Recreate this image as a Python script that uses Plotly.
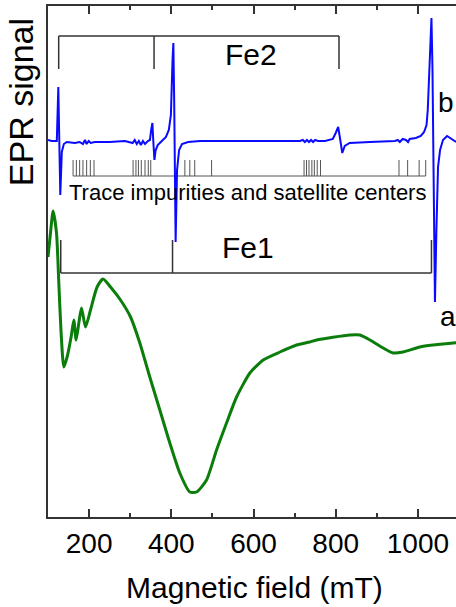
import plotly.graph_objects as go

# ---- data (field in mT, signal in arbitrary units) ----
green_field = [100, 106, 112.4, 120.7, 126.3, 131.9, 138.5, 146.5, 156.2, 162.8, 168.4, 175.0,
               181.5, 191.3, 203.4, 219.5, 234.1, 252.1, 276.4, 300.8, 323.4, 347.7, 372.1,
               396.4, 420.7, 445.1, 461.4, 485.7, 510.1, 534.4, 558.8, 591.2, 623.5, 664.2,
               704.8, 737.1, 753.4, 834.5, 858.8, 883.2, 915.5, 939.9, 964.2, 1004.8, 1036.5,
               1085.9, 1100]
green_signal = [260, 284, 306, 284, 234, 184, 150, 160, 180, 197, 177, 194,
                209, 190, 207, 230, 238, 230, 217, 200, 174, 140, 107,
                74, 44, 25, 25, 37, 67, 94, 120, 144, 157, 165,
                172, 175, 177, 182, 182, 177, 169, 164, 165, 170, 172,
                174, 174.5]

blue_field = [100, 109, 121.4, 125.1, 127.5, 129.9, 133.6, 138.5, 145.8, 165, 177, 185, 190, 194,
              199, 204, 214, 250, 287, 306, 311, 316, 321, 326, 331, 336, 343, 348, 351, 354,
              356, 359, 362, 367, 377, 387, 394, 399, 403, 405, 407, 409, 410.5, 414, 419, 426,
              441, 470, 591, 713, 720, 725, 730, 735, 740, 745, 750, 757, 774, 793, 800, 806,
              810, 816, 822, 834, 883, 944, 951, 956, 963, 971, 976, 980, 995, 1007, 1015,
              1021, 1024, 1029, 1033, 1035.5, 1038, 1041.5, 1045, 1049, 1054, 1061, 1071,
              1078, 1093]
blue_signal = [377, 376, 376, 430, 376, 322, 365, 373, 375, 374, 375, 373, 377, 373,
               376, 374, 375, 375, 376, 374, 377, 373, 376, 372, 376, 373, 376, 377, 387, 394,
               377, 357, 367, 372, 376, 380, 387, 402, 457, 474, 417, 337, 275, 347, 367, 373,
               375, 376, 376, 376, 377, 375, 377, 375, 377, 375, 377, 376, 376, 378, 384, 390,
               380, 364, 371, 374, 375, 376, 377, 375, 378, 377, 375, 378, 379, 381, 385,
               392, 407, 457, 499, 447, 317, 215, 287, 350, 367, 377, 381,
               379, 375]

fe2_lines = [126, 358, 808]
fe1_lines = [131, 403, 1033]
trace_lines = [161, 169, 177, 185, 194, 203, 212,
               307, 314, 320, 327, 336, 344, 350,
               433, 445, 457, 498,
               723, 729, 735, 742, 748, 755, 763,
               954, 975, 1003, 1019]

x_ticks = [200, 400, 600, 800, 1000]

# ---- style levels (arbitrary signal units) ----
FE2_TOP, FE2_BOT = 481, 448
FE1_TOP, FE1_BOT = 277, 244
TR_TOP, TR_BOT = 357, 341

FONT = "Liberation Sans, Arial, sans-serif"

fig = go.Figure()

def bracket(lines, top, bottom, hanging):
    xs, ys = [], []
    y_h = top if hanging else bottom
    xs += [min(lines), max(lines), None]
    ys += [y_h, y_h, None]
    for v in lines:
        xs += [v, v, None]
        ys += [top, bottom, None]
    return xs, ys

tx, ty = bracket(trace_lines, TR_TOP, TR_BOT, hanging=False)
fig.add_trace(go.Scatter(x=tx, y=ty, mode="lines", line=dict(color="#555555", width=1),
                         hoverinfo="skip", showlegend=False))
bx, by = bracket(fe2_lines, FE2_TOP, FE2_BOT, hanging=True)
fig.add_trace(go.Scatter(x=bx, y=by, mode="lines", line=dict(color="#333333", width=1.5),
                         hoverinfo="skip", showlegend=False))
cx, cy = bracket(fe1_lines, FE1_TOP, FE1_BOT, hanging=False)
fig.add_trace(go.Scatter(x=cx, y=cy, mode="lines", line=dict(color="#333333", width=1.5),
                         hoverinfo="skip", showlegend=False))

fig.add_trace(go.Scatter(x=green_field, y=green_signal, mode="lines",
                         line=dict(color="#0b7d0b", width=3, shape="spline", smoothing=0.6),
                         showlegend=False))
fig.add_trace(go.Scatter(x=blue_field, y=blue_signal, mode="lines",
                         line=dict(color="#0a0aff", width=2), showlegend=False))

annos = [
    dict(text="Fe2", x=593, y=463, xref="x", yref="y", font=dict(size=30)),
    dict(text="Fe1", x=586, y=270, xref="x", yref="y", font=dict(size=30)),
    dict(text="Trace impurities and satellite centers", x=585, y=325, xref="x", yref="y",
         font=dict(size=22)),
    dict(text="b", x=1068, y=415, xref="x", yref="y", font=dict(size=28)),
    dict(text="a", x=1073, y=201, xref="x", yref="y", font=dict(size=28)),
    dict(text="EPR signal", x=-0.066, y=0.812, xref="paper", yref="paper", textangle=-90,
         font=dict(size=34)),
    dict(text="Magnetic field (mT)", x=0.505, y=-0.138, xref="paper", yref="paper",
         font=dict(size=30)),
]
for a in annos:
    a.update(showarrow=False, xanchor="center", yanchor="middle")
    a["font"].update(family=FONT, color="black")
    fig.add_annotation(**a)

fig.update_layout(
    width=456, height=607,
    margin=dict(l=48, r=0, t=6, b=90),
    paper_bgcolor="white", plot_bgcolor="white",
    font=dict(family=FONT, color="black"),
    xaxis=dict(range=[100, 1092.7], tickvals=x_ticks, ticktext=[str(v) for v in x_ticks],
               ticks="inside", ticklen=8, tickwidth=1.5, tickcolor="#333333",
               showline=True, linecolor="#333333", linewidth=2, mirror="allticks",
               showgrid=False, zeroline=False, tickfont=dict(size=28, family=FONT),
               ticklabelstandoff=0,
               minor=dict(tickvals=[300, 500, 700, 900], ticks="inside", ticklen=4,
                          tickwidth=1.5, tickcolor="#333333", showgrid=False)),
    yaxis=dict(range=[0, 511], showticklabels=False, ticks="", showline=True,
               linecolor="#333333", linewidth=2, showgrid=False, zeroline=False),
)

fig.write_html("out.html", config={"displayModeBar": False},
               post_script="document.body.style.margin='0px';document.body.style.overflow='hidden';")
